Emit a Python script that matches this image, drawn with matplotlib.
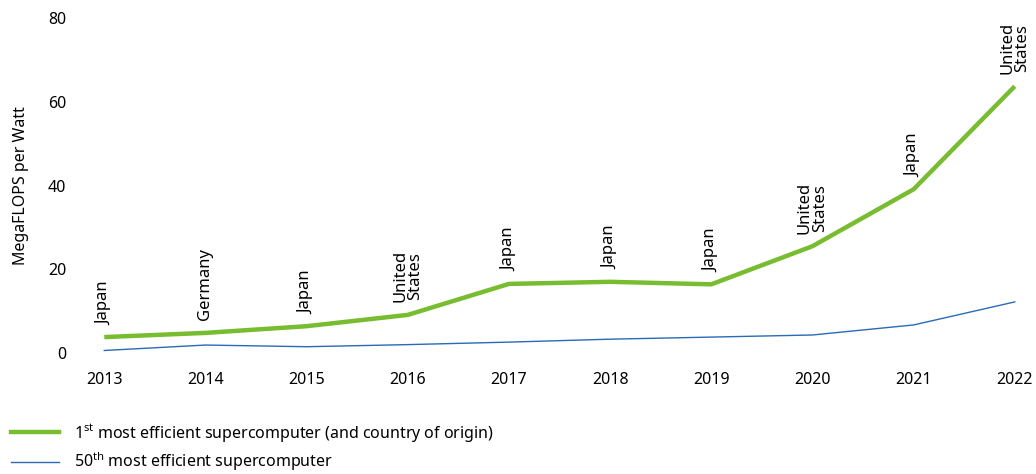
import matplotlib.pyplot as plt
from matplotlib.lines import Line2D

plt.rcParams['font.family'] = ['Noto Sans', 'DejaVu Sans']
plt.rcParams['mathtext.fontset'] = 'custom'
plt.rcParams['mathtext.rm'] = 'Noto Sans'

years = [2013, 2014, 2015, 2016, 2017, 2018, 2019, 2020, 2021, 2022]
first = [3.8, 4.8, 6.4, 9.1, 16.5, 17.0, 16.4, 25.5, 39.1, 63.7]
fiftieth = [0.6, 1.9, 1.5, 2.0, 2.6, 3.3, 3.8, 4.3, 6.7, 12.2]
countries = ['Japan', 'Germany', 'Japan', 'United\nStates', 'Japan', 'Japan',
             'Japan', 'United\nStates', 'Japan', 'United\nStates']

green = '#78BC30'
blue = '#2A6AB8'

W, H = 1036, 474
fig = plt.figure(figsize=(W / 100, H / 100), dpi=100)
left, right, top, bottom = 79, 1035, 18, 353
ax = fig.add_axes([left / W, 1 - bottom / H, (right - left) / W, (bottom - top) / H])

ax.plot(years, first, color=green, lw=3.2, solid_capstyle='butt')
ax.plot(years, fiftieth, color=blue, lw=1.0)

for x, y, c in zip(years, first, countries):
    ax.annotate(c, (x, y), xytext=(0, 9), textcoords='offset points',
                rotation=90, ha='center', va='bottom', fontsize=12,
                linespacing=0.95)

ax.set_xlim(2012.75, 2022.2)
ax.set_ylim(0, 80)
ax.set_yticks([0, 20, 40, 60, 80])
ax.set_xticks(years)
ax.tick_params(length=0, labelsize=11.5)
ax.tick_params(axis='x', pad=14)
ax.tick_params(axis='y', pad=9)
for s in ax.spines.values():
    s.set_visible(False)
ax.set_ylabel('MegaFLOPS per Watt', fontsize=11.5, labelpad=14)

handles = [Line2D([], [], color=green, lw=3.2),
           Line2D([], [], color=blue, lw=1.0)]
labels = [r'1$^{\mathrm{st}}$ most efficient supercomputer (and country of origin)',
          r'50$^{\mathrm{th}}$ most efficient supercomputer']
fig.legend(handles, labels, loc='upper left',
           bbox_to_anchor=(9 / W, 1 - 420 / H),
           frameon=False, fontsize=11.5, handlelength=3.0, handletextpad=1.0,
           labelspacing=0.45, borderaxespad=0, borderpad=0.1)

fig.savefig('out.png', dpi=100)
